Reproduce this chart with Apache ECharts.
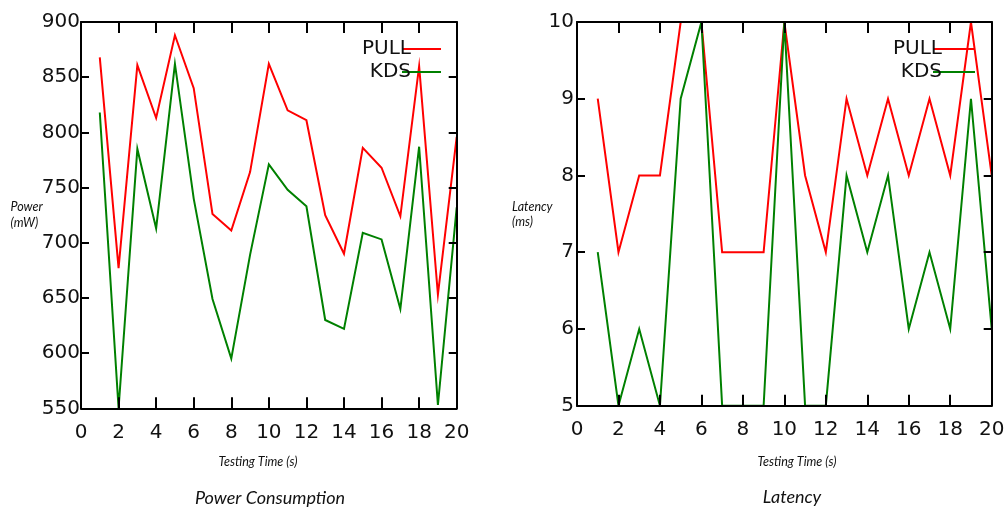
<!DOCTYPE html>
<html>
<head>
<meta charset="utf-8">
<script src="https://cdn.jsdelivr.net/npm/echarts@6/dist/echarts.min.js"></script>
<style>
  html, body { margin: 0; padding: 0; background: #fff; }
  #chart { width: 1008px; height: 508px; }
</style>
</head>
<body>
<div id="chart"></div>
<script>
// Sample times (s)
const times = [1, 2, 3, 4, 5, 6, 7, 8, 9, 10, 11, 12, 13, 14, 15, 16, 17, 18, 19, 20];

// Power consumption (mW)
const powerPull = [868, 677, 861, 813, 888, 840, 726, 711, 764, 862, 820, 811, 725, 690, 786, 768, 724, 860, 653, 796];
const powerKds  = [818, 550, 785, 713, 862, 740, 649, 595, 689, 771, 748, 733, 630, 622, 709, 703, 640, 787, 553, 732];

// Latency (ms)
const latencyPull = [9, 7, 8, 8, 10, 10, 7, 7, 7, 10, 8, 7, 9, 8, 9, 8, 9, 8, 10, 8];
const latencyKds  = [7, 5, 6, 5, 9, 10, 5, 5, 5, 10, 5, 5, 8, 7, 8, 6, 7, 6, 9, 6];

const seriesNames = ['PULL', 'KDS'];
const seriesColors = ['#ff0000', '#008000'];

const pairs = (ys) => times.map((t, i) => [t, ys[i]]);

const tickFont = { fontFamily: 'DejaVu Sans', fontSize: 20, color: '#111' };
const italicFont = { fontFamily: 'Lato', fontStyle: 'italic' };

function xAxes(gridIndex) {
  const base = {
    type: 'value', gridIndex: gridIndex, min: 0, max: 20, interval: 2,
    splitLine: { show: false }, z: 3,
    axisLine: { show: true, onZero: false, lineStyle: { color: '#000', width: 2 } },
    axisTick: { show: true, inside: true, length: 11, lineStyle: { color: '#000', width: 2 } }
  };
  return [
    Object.assign({}, base, { position: 'bottom', axisLabel: Object.assign({ margin: 14 }, tickFont) }),
    Object.assign({}, base, { position: 'top', axisLabel: { show: false } })
  ];
}

function yAxes(gridIndex, min, max, interval, labelMargin) {
  const base = {
    type: 'value', gridIndex: gridIndex, min: min, max: max, interval: interval,
    splitLine: { show: false }, z: 3,
    axisLine: { show: true, onZero: false, lineStyle: { color: '#000', width: 2 } },
    axisTick: { show: true, inside: true, length: 8, lineStyle: { color: '#000', width: 2 } }
  };
  return [
    Object.assign({}, base, { position: 'left', axisLabel: Object.assign({ margin: labelMargin }, tickFont) }),
    Object.assign({}, base, { position: 'right', axisLabel: { show: false } })
  ];
}

function lineSeries(name, color, xi, yi, ys) {
  return {
    name: name, type: 'line', xAxisIndex: xi, yAxisIndex: yi,
    data: pairs(ys), showSymbol: false, symbol: 'none', z: 2,
    lineStyle: { color: color, width: 2, join: 'miter' },
    itemStyle: { color: color }
  };
}

function legend(right, width) {
  return {
    orient: 'vertical', align: 'right', right: right, top: 34,
    itemWidth: width, itemHeight: 2, itemGap: 3, icon: 'rect',
    textStyle: { fontFamily: 'DejaVu Sans', fontSize: 20, lineHeight: 20, color: '#111', padding: [0, -14, 0, 0] },
    data: seriesNames
  };
}

function label(text, x, y, size, align, lineHeight) {
  return {
    type: 'text', x: x, y: y,
    style: Object.assign({
      text: text, fontSize: size, lineHeight: lineHeight || size * 1.25,
      align: align, verticalAlign: 'middle', fill: '#111'
    }, italicFont)
  };
}

const chart = echarts.init(document.getElementById('chart'), null, { renderer: 'canvas' });

chart.setOption({
  animation: false,
  backgroundColor: '#fff',
  grid: [
    { left: 81, top: 22, right: 551.3, bottom: 99.7, containLabel: false },
    { left: 577, top: 22, right: 16.3, bottom: 102.3, containLabel: false }
  ],
  legend: [
    Object.assign(legend(562, 39), { seriesIndex: [0, 1] }),
    Object.assign(legend(28, 42), { seriesIndex: [2, 3] })
  ],
  xAxis: xAxes(0).concat(xAxes(1)),
  yAxis: yAxes(0, 550, 900, 50, 1).concat(yAxes(1, 5, 10, 1, 3)),
  series: [
    lineSeries(seriesNames[0], seriesColors[0], 0, 0, powerPull),
    lineSeries(seriesNames[1], seriesColors[1], 0, 0, powerKds),
    lineSeries(seriesNames[0], seriesColors[0], 2, 2, latencyPull),
    lineSeries(seriesNames[1], seriesColors[1], 2, 2, latencyKds)
  ],
  graphic: [
    label('Power\n(mW)', 10.5, 215, 12.5, 'left', 15.5),
    label('Latency\n(ms)', 512, 214.5, 12.5, 'left', 15.5),
    label('Testing Time (s)', 258, 462, 12.5, 'center'),
    label('Testing Time (s)', 797, 462, 12.5, 'center'),
    label('Power Consumption', 270, 498, 18, 'center'),
    label('Latency', 792, 497, 18, 'center')
  ]
});
</script>
</body>
</html>
